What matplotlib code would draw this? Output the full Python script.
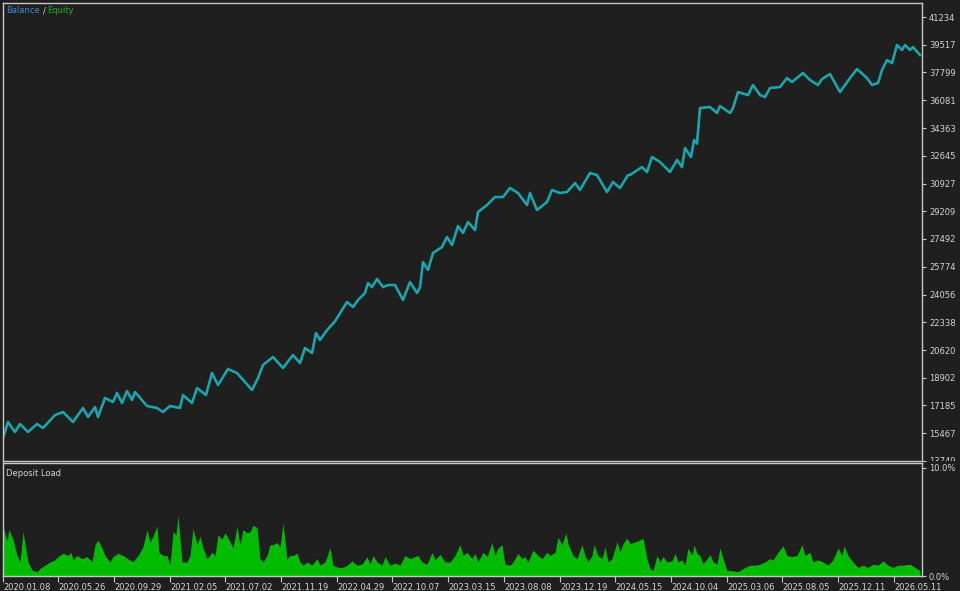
import matplotlib
matplotlib.use("Agg")
import matplotlib.pyplot as plt
from matplotlib.transforms import Bbox

# ===== Data (timeline in chart columns) =====
bal_x = [3, 8, 15, 20, 28, 37, 43, 55, 63, 73, 83, 88, 95, 98, 105, 113, 117, 122, 127, 132,
         135, 147, 157, 163, 170, 180, 183, 192, 197, 206, 212, 218, 228, 237, 245, 252, 258,
         263, 273, 283, 293, 300, 305, 312, 316, 320, 327, 335, 340, 347, 353, 358, 365, 368,
         372, 377, 383, 388, 395, 403, 410, 417, 420, 423, 428, 433, 442, 447, 452, 458, 463,
         468, 475, 478, 487, 495, 503, 510, 518, 527, 530, 537, 547, 552, 560, 567, 575, 580,
         590, 597, 607, 613, 620, 628, 630, 642, 647, 652, 660, 670, 677, 682, 685, 691, 694,
         697, 700, 710, 717, 720, 730, 733, 738, 748, 753, 760, 765, 770, 780, 787, 792, 803,
         810, 818, 822, 830, 840, 850, 857, 867, 872, 878, 882, 887, 892, 897, 902, 905, 910,
         913, 920]
balance = [15173, 16163, 15544, 16039, 15544, 16039, 15792, 16596, 16782, 16163, 17030, 16473,
           17092, 16473, 17649, 17401, 17958, 17339, 18082, 17525, 18020, 17153, 17030, 16782,
           17153, 17030, 17834, 17339, 18268, 17834, 19196, 18453, 19444, 19196, 18639, 18144,
           18887, 19691, 20187, 19506, 20310, 19815, 20744, 20434, 21672, 21239, 21850, 22400,
           22900, 23591, 23282, 23715, 24149, 24768, 24521, 25016, 24521, 24643, 24643, 23715,
           24829, 24149, 24500, 26067, 25572, 26624, 26996, 27615, 27120, 28296, 27862, 28543,
           28048, 29162, 29595, 30091, 30091, 30648, 30338, 29595, 30338, 29286, 29781, 30524,
           30338, 30400, 30957, 30524, 31576, 31452, 30400, 31019, 30648, 31452, 31452, 31947,
           31638, 32567, 32258, 31638, 32380, 31947, 33124, 32567, 33619, 33400, 35600, 35662,
           35290, 35724, 35290, 35600, 36590, 36404, 37023, 36404, 36280, 36838, 36900, 37457,
           37209, 37766, 37333, 37023, 37395, 37704, 36590, 37457, 38014, 37457, 37023, 37147,
           37952, 38571, 38385, 39500, 39190, 39500, 39190, 39376, 38880]

load_x = [3, 7, 9, 13, 17, 20, 23, 25, 28, 32, 37, 40, 45, 50, 55, 58, 63, 68, 71, 73, 77, 82,
          87, 92, 95, 98, 102, 105, 110, 113, 118, 123, 128, 133, 138, 143, 147, 150, 153, 157,
          159, 163, 167, 170, 173, 176, 178, 182, 187, 190, 193, 197, 200, 203, 207, 212, 215,
          218, 222, 225, 230, 233, 237, 240, 243, 247, 250, 253, 257, 260, 263, 267, 270, 273,
          277, 280, 283, 287, 290, 293, 297, 300, 303, 307, 312, 317,
          320, 325, 330, 333, 338, 343, 347, 352, 357, 362, 367, 370, 373, 377, 382, 385, 390,
          395, 400, 405, 410, 415, 418, 422, 427, 432, 435, 440, 445, 450, 455, 460, 463, 467,
          472, 475, 478, 483, 487, 492, 495, 498, 502, 505, 510, 513, 518, 522, 525, 528, 533,
          538, 542, 547, 550, 555, 558, 562, 566, 568, 573, 577, 582, 585, 588, 592, 594, 598,
          602, 605, 608, 612, 617, 620, 623, 627, 630, 633, 637,
          643, 647, 650, 653, 657, 660, 663, 667, 672, 675, 678, 682, 685, 688, 692, 694, 697,
          700, 703, 707, 710, 713, 717, 720, 723, 727, 732, 737, 740, 745, 750, 755, 760, 765,
          770, 773, 778, 783, 787, 792, 797, 802, 805, 810, 813, 818, 823, 828, 833, 838, 842,
          844, 848, 853, 858, 863, 868, 873, 878, 883, 888, 893, 898, 903, 910, 915, 920]
deposit_load = [4.6, 3.2, 4.3, 3.4, 1.9, 1.3, 4.1, 3.0, 1.3, 0.55, 0.4, 0.7, 1.0, 1.3, 1.5, 1.8,
                2.1, 1.9, 2.2, 1.5, 1.9, 1.6, 1.8, 1.3, 2.9, 3.3, 2.6, 1.9, 1.3, 1.8, 2.1, 1.9,
                1.6, 1.3, 1.9, 2.7, 4.3, 3.1, 3.7, 4.6, 2.2, 1.9, 1.9, 1.0, 4.1, 3.8, 5.6, 1.3,
                1.3, 1.9, 4.4, 2.9, 3.7, 2.6, 1.6, 2.2, 1.9, 3.8, 3.4, 4.0, 3.2, 2.6, 4.6, 2.9,
                4.3, 4.0, 4.1, 4.7, 4.5, 1.6, 1.3, 1.9, 2.9, 2.9, 3.1, 2.7, 4.9, 1.6, 1.9, 1.9,
                2.1, 1.3, 1.0, 1.3, 1.0, 1.6,
                1.0, 1.3, 2.6, 1.0, 0.8, 0.8, 1.0, 1.4, 1.0, 1.1, 1.8, 1.1, 1.9, 1.3, 1.0, 1.8,
                1.0, 1.2, 1.0, 1.9, 1.6, 1.8, 1.9, 1.3, 1.1, 2.2, 1.5, 2.0, 1.3, 1.3, 1.9, 2.9,
                1.9, 2.2, 1.6, 2.1, 1.3, 2.2, 1.8, 3.1, 1.9, 2.6, 2.9, 1.1, 1.0, 1.3, 2.1, 1.6,
                1.8, 1.3, 2.4, 1.9, 1.6, 2.2, 1.9, 2.2, 3.6, 2.9, 4.0, 3.0, 1.9, 1.6, 2.9, 1.9,
                1.3, 1.9, 2.9, 1.9, 1.6, 2.7, 1.3, 1.6, 3.2, 2.2, 3.0, 3.5, 3.0, 3.1, 3.2,
                3.5, 1.6, 0.7, 0.5, 1.9, 1.3, 1.8, 1.3, 1.4, 2.1, 1.3, 1.5, 1.0, 2.6, 1.9, 2.9,
                2.1, 1.9, 1.1, 1.6, 2.0, 1.3, 1.1, 2.6, 1.6, 0.5, 0.5, 0.4, 0.5, 0.8, 1.0, 1.0,
                1.1, 1.3, 1.6, 1.5, 2.2, 2.8, 1.9, 1.8, 1.9, 2.9, 1.9, 2.2, 1.3, 1.5, 1.3, 1.0,
                1.5, 2.6, 1.9, 2.8, 1.9, 1.3, 0.8, 1.0, 0.8, 1.1, 1.0, 1.4, 1.0, 0.8, 1.0, 1.0,
                1.1, 0.8, 0.5]

y_ticks = [13749, 15467, 17185, 18902, 20620, 22338, 24056, 25774, 27492, 29209, 30927,
           32645, 34363, 36081, 37799, 39517, 41234]
date_pos = [3, 58, 114, 170, 225, 281, 337, 392, 448, 504, 560, 615, 671, 727, 782, 838, 894]
date_labels = ["2020.01.08", "2020.05.26", "2020.09.29", "2021.02.05", "2021.07.02",
               "2021.11.19", "2022.04.29", "2022.10.07", "2023.03.15", "2023.08.08",
               "2023.12.19", "2024.05.15", "2024.10.04", "2025.03.06", "2025.08.05",
               "2025.12.11", "2026.05.11"]

BG = "#1f1f1f"
FRAME = "#c8c8c8"
TXT = "#d4d4d4"
BLUE = "#1e9be3"
GREEN = "#14b024"
LOAD = "#00bb00"

plt.rcParams["font.family"] = ["DejaVu Sans"]

W, H = 960, 591
fig = plt.figure(figsize=(9.6, 5.91), dpi=100, facecolor=BG)

# --- main balance/equity panel ---
ax = fig.add_axes([3 / W, 1 - 461 / H, 919 / W, 458 / H], facecolor=BG)
ax.plot(bal_x, balance, color=GREEN, lw=1.9)
ax.plot(bal_x, balance, color=BLUE, lw=1.3)
ax.set_xlim(3, 922)
ax.set_ylim(13749, 42101)
ax.yaxis.tick_right()
ax.set_yticks(y_ticks)
ax.set_yticklabels([str(v) for v in y_ticks])
ax.tick_params(axis="y", colors=FRAME, labelcolor=TXT, labelsize=6, length=3, pad=2)
ax.set_xticks([])
for s in ax.spines.values():
    s.set_color(FRAME)
    s.set_linewidth(1)

# the lowest price label is half hidden behind the lower panel, as in the terminal
clip = Bbox.from_extents(900, H - 461, W, H)
ax.get_yticklabels()[0].set_clip_box(clip)
ax.get_yticklabels()[0].set_clip_on(True)

ax.text(0.003, 0.993, "Balance", transform=ax.transAxes, color="#3c8cd8",
        fontsize=6, ha="left", va="top")
ax.text(0.0435, 0.993, "/", transform=ax.transAxes, color=TXT,
        fontsize=6, ha="left", va="top")
ax.text(0.0485, 0.993, "Equity", transform=ax.transAxes, color="#1fae1f",
        fontsize=6, ha="left", va="top")

# --- deposit load panel ---
ax2 = fig.add_axes([3 / W, 1 - 576 / H, 919 / W, 113 / H], facecolor=BG)
ax2.fill_between(load_x, 0, deposit_load, color=LOAD, lw=0)
ax2.set_xlim(3, 922)
ax2.set_ylim(0, 10.46)
ax2.yaxis.tick_right()
ax2.set_yticks([0, 10])
ax2.set_yticklabels(["0.0%", "10.0%"])
ax2.tick_params(axis="y", colors=FRAME, labelcolor=TXT, labelsize=6, length=3, pad=2)
ax2.set_xticks(date_pos)
ax2.set_xticklabels(date_labels)
for lbl in ax2.get_xticklabels():
    lbl.set_horizontalalignment("left")
ax2.tick_params(axis="x", colors=FRAME, labelcolor=TXT, labelsize=6, length=4,
                direction="out", pad=1)
for s in ax2.spines.values():
    s.set_color(FRAME)
    s.set_linewidth(1)
ax2.text(0.003, 0.95, "Deposit Load", transform=ax2.transAxes, color=TXT,
         fontsize=6, ha="left", va="top")

fig.savefig("out.png", dpi=100, facecolor=BG)
plt.close(fig)
